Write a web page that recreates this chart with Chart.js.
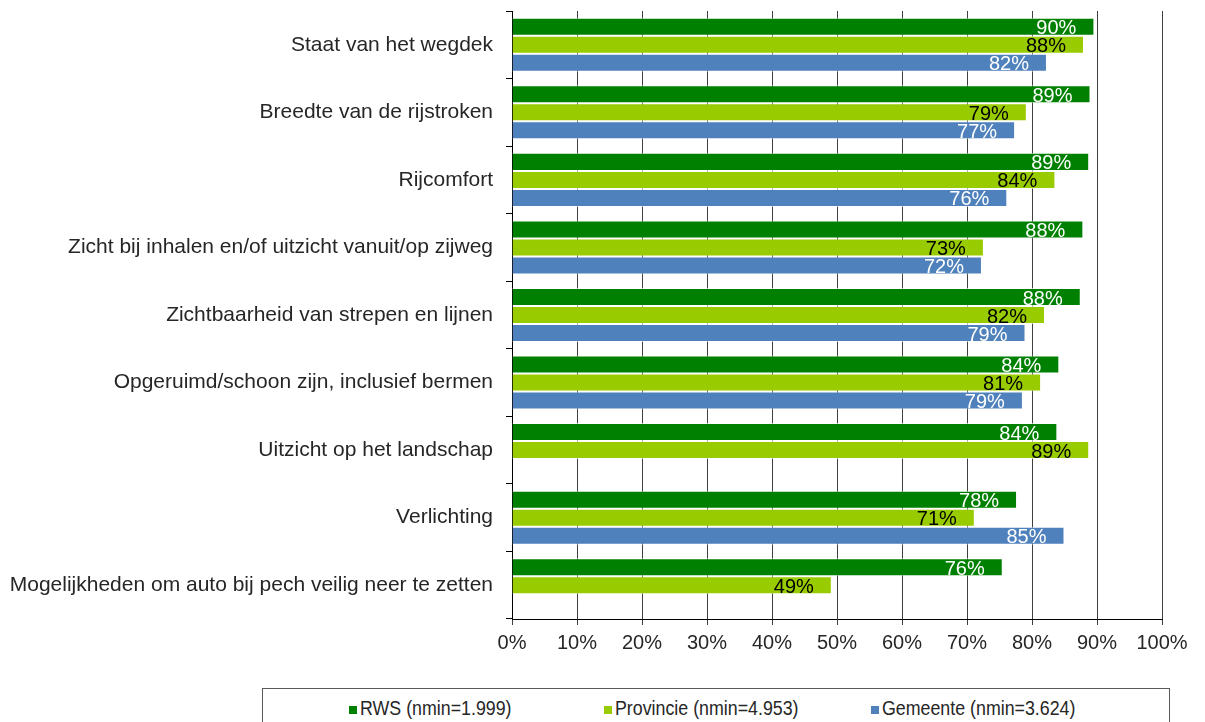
<!DOCTYPE html>
<html>
<head>
<meta charset="utf-8">
<script src="https://cdn.jsdelivr.net/npm/chart.js@4.4.1/dist/chart.umd.min.js"></script>
<style>
    html, body { margin: 0; padding: 0; background: #fff; overflow: hidden; }
    #wrap { position: absolute; left: 0; top: 0; width: 1205px; height: 680px; }
    #legenda {
        position: absolute; left: 262px; top: 688px; width: 908px; height: 50px;
        border: 1px solid #595959; box-sizing: border-box;
        font-family: "Liberation Sans", Arial, sans-serif;
        font-size: 20px; color: #262626;
    }
    .item { position: absolute; top: 7px; white-space: nowrap; line-height: 24px; }
    .box { display: inline-block; width: 8px; height: 8px; margin-right: 3px; vertical-align: 1px; }
    .tekst { display: inline-block; transform: scaleX(0.89); transform-origin: left center; }
</style>
</head>
<body>
<div id="wrap"><canvas id="tevredenheidChart"></canvas></div>
<div id="legenda"></div>
<script>
// ==========================================
// DATOS
// ==========================================
const categorieen = [
    "Staat van het wegdek",
    "Breedte van de rijstroken",
    "Rijcomfort",
    "Zicht bij inhalen en/of uitzicht vanuit/op zijweg",
    "Zichtbaarheid van strepen en lijnen",
    "Opgeruimd/schoon zijn, inclusief bermen",
    "Uitzicht op het landschap",
    "Verlichting",
    "Mogelijkheden om auto bij pech veilig neer te zetten"
];
const rwsWaarden       = [89.6, 89.0, 88.8, 87.9, 87.5, 84.2, 83.9, 77.7, 75.5];
const provincieWaarden = [88.0, 79.2, 83.6, 72.6, 82.0, 81.4, 88.8, 71.2, 49.2];
const gemeenteWaarden  = [82.3, 77.4, 76.2, 72.3, 79.0, 78.6, null, 85.0, null];
const reeksNamen = ["RWS (nmin=1.999)", "Provincie (nmin=4.953)", "Gemeente (nmin=3.624)"];
const xTicks = [0, 10, 20, 30, 40, 50, 60, 70, 80, 90, 100];

const kleuren = ["#008000", "#99CC00", "#4F81BD"];
const labelKleuren = ["#ffffff", "#000000", "#ffffff"];
const FONT = "'Liberation Sans', Arial, sans-serif";

// Labels binnen het einde van de balk
const waardeLabels = {
    id: "waardeLabels",
    afterDatasetsDraw(chart) {
        const ctx = chart.ctx;
        ctx.save();
        ctx.font = "20px " + FONT;
        ctx.textAlign = "right";
        ctx.textBaseline = "middle";
        chart.data.datasets.forEach((ds, i) => {
            const meta = chart.getDatasetMeta(i);
            meta.data.forEach((bar, j) => {
                const v = ds.data[j];
                if (v === null || v === undefined) return;
                ctx.fillStyle = labelKleuren[i];
                ctx.fillText(Math.round(v) + "%", bar.x - 18, bar.y + 2);
            });
        });
        ctx.restore();
    }
};

const ctx = document.getElementById("tevredenheidChart").getContext("2d");
new Chart(ctx, {
    type: "bar",
    data: {
        labels: categorieen,
        datasets: [rwsWaarden, provincieWaarden, gemeenteWaarden].map((d, i) => ({
            label: reeksNamen[i],
            data: d,
            backgroundColor: kleuren[i],
            borderColor: "rgba(255,255,255,0.6)",
            borderWidth: 1,
            barPercentage: 1,
            categoryPercentage: 0.8
        }))
    },
    options: {
        indexAxis: "y",
        responsive: true,
        maintainAspectRatio: false,
        animation: false,
        layout: { padding: { top: 11, right: 43, left: 0, bottom: 0 } },
        plugins: {
            legend: { display: false },
            tooltip: { enabled: false }
        },
        scales: {
            x: {
                min: 0,
                max: 100,
                afterBuildTicks: (s) => { s.ticks = xTicks.map(v => ({ value: v })); },
                afterFit: (s) => { s.height = 61; },
                grid: { color: "#404040", lineWidth: 1, tickLength: 6 },
                border: { color: "#000", width: 1 },
                ticks: {
                    callback: (v) => v + "%",
                    font: { family: FONT, size: 20 },
                    color: "#262626",
                    padding: 6,
                    maxRotation: 0
                }
            },
            y: {
                afterFit: (s) => { s.width = 512; s.paddingTop = 0; s.paddingBottom = 0; },
                grid: { drawOnChartArea: false, color: "#000", tickLength: 6, offset: true },
                border: { color: "#000", width: 1 },
                ticks: {
                    font: { family: FONT, size: 21 },
                    color: "#262626",
                    padding: 13
                }
            }
        }
    },
    plugins: [waardeLabels]
});

// ==========================================
// LEGENDA (HTML)
// ==========================================
const legendaPosities = [86, 341, 608];
const legenda = document.getElementById("legenda");
reeksNamen.forEach((naam, i) => {
    const item = document.createElement("div");
    item.className = "item";
    item.style.left = legendaPosities[i] + "px";
    item.innerHTML = `<span class="box" style="background:${kleuren[i]}"></span><span class="tekst">${naam}</span>`;
    legenda.appendChild(item);
});
</script>
</body>
</html>
